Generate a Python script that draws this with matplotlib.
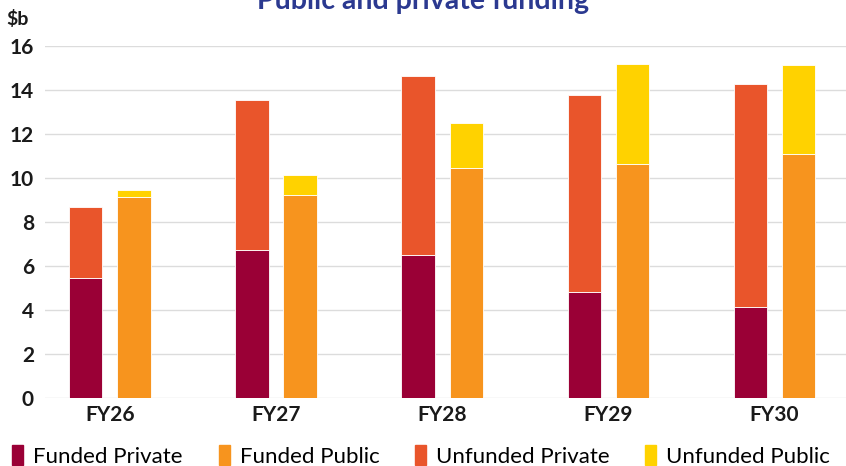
import numpy as np
import matplotlib.pyplot as plt
from matplotlib.patches import Patch

years = ["FY26", "FY27", "FY28", "FY29", "FY30"]
funded_private = [5.45, 6.75, 6.5, 4.8, 4.15]
unfunded_private = [3.25, 6.8, 8.15, 9.0, 10.15]
funded_public = [9.15, 9.25, 10.45, 10.65, 11.1]
unfunded_public = [0.3, 0.9, 2.05, 4.55, 4.05]

c_fpriv = "#9A0036"
c_upriv = "#E9552B"
c_fpub = "#F7941E"
c_upub = "#FFD200"

plt.rcParams['font.family'] = ['Lato', 'DejaVu Sans']

fig = plt.figure(figsize=(8.46, 4.66), dpi=100)
ax = fig.add_axes([45 / 846, 0.146, 1 - 45 / 846, 0.755])

x = np.arange(len(years))
w = 0.2
off = 0.145

ax.bar(x - off, funded_private, w, color=c_fpriv, edgecolor="white", linewidth=0.6, zorder=3)
ax.bar(x - off, unfunded_private, w, bottom=funded_private, color=c_upriv,
       edgecolor="white", linewidth=0.6, zorder=3)
ax.bar(x + off, funded_public, w, color=c_fpub, edgecolor="white", linewidth=0.6, zorder=3)
ax.bar(x + off, unfunded_public, w, bottom=funded_public, color=c_upub,
       edgecolor="white", linewidth=0.6, zorder=3)

ax.set_xlim(-0.39, 4.43)
ax.set_ylim(0, 16)
ax.set_yticks(range(0, 17, 2))
ax.set_xticks(x)
ax.set_xticklabels(years, fontsize=15, fontweight="bold", color="#1a1a1a")
ax.tick_params(axis="y", labelsize=15, length=0, pad=8, labelcolor="#1a1a1a")
ax.tick_params(axis="x", length=0, pad=5)
for lab in ax.get_yticklabels():
    lab.set_fontweight("bold")
ax.grid(axis="y", color="#dcdcdc", linewidth=1, zorder=0)
for s in ax.spines.values():
    s.set_visible(False)

fig.text(0.5, 1 - 9 / 466, "Public and private funding", ha="center", va="baseline",
         fontsize=20.5, fontweight="bold", color="#2B3990")
fig.text(0.008, 1 - 25 / 466, "$b", ha="left", va="baseline", fontsize=14,
         fontweight="bold", color="#1a1a1a")

handles = [Patch(color=c_fpriv, label="Funded Private"),
           Patch(color=c_fpub, label="Funded Public"),
           Patch(color=c_upriv, label="Unfunded Private"),
           Patch(color=c_upub, label="Unfunded Public")]
leg = fig.legend(handles=handles, loc="center left", bbox_to_anchor=(-0.009, 1 - 456 / 466),
                 ncol=4, frameon=False, fontsize=16, handlelength=0.5, handleheight=1.0,
                 handletextpad=0.45, columnspacing=1.6)

fig.savefig("out.png", dpi=100)
